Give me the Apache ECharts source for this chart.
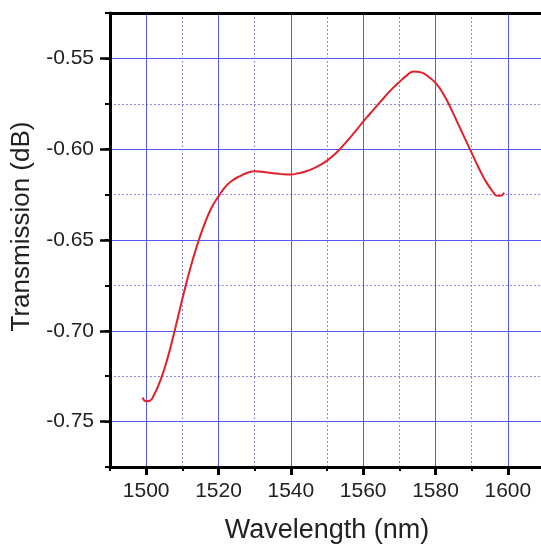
<!DOCTYPE html>
<html>
<head>
<meta charset="utf-8">
<script src="https://cdn.jsdelivr.net/npm/echarts@6/dist/echarts.min.js"></script>
<style>
html,body{margin:0;padding:0;background:#fff;}
#chart{width:541px;height:552px;}
</style>
</head>
<body>
<div id="chart"></div>
<script>
// Wavelength (nm)
const wavelength = [1499, 1500, 1501, 1502, 1504, 1506, 1508, 1510, 1512, 1514, 1516, 1518, 1520, 1522, 1524, 1526, 1528, 1530, 1532, 1534, 1536, 1538, 1540, 1542, 1544, 1546, 1548, 1550, 1552, 1554, 1556, 1558, 1560, 1562, 1564, 1566, 1568, 1570, 1572, 1574, 1576, 1578, 1580, 1582, 1584, 1586, 1588, 1590, 1592, 1594, 1596, 1597, 1598, 1599];
// Transmission (dB)
const transmission = [-0.7368, -0.7388, -0.7385, -0.7360, -0.7270, -0.7145, -0.6990, -0.6825, -0.6670, -0.6535, -0.6420, -0.6325, -0.6260, -0.6205, -0.6170, -0.6148, -0.6130, -0.6122, -0.6124, -0.6130, -0.6134, -0.6138, -0.6139, -0.6133, -0.6123, -0.6108, -0.6088, -0.6063, -0.6030, -0.5990, -0.5945, -0.5898, -0.5848, -0.5802, -0.5756, -0.5711, -0.5668, -0.5630, -0.5595, -0.5572, -0.5577, -0.5600, -0.5635, -0.5690, -0.5765, -0.5850, -0.5935, -0.6020, -0.6105, -0.6180, -0.6238, -0.6257, -0.6256, -0.6240];
const xMajorTicks = [1500, 1520, 1540, 1560, 1580, 1600];
const yMajorTicks = [-0.75, -0.70, -0.65, -0.60, -0.55];

const xMin = 1490, xMax = 1610, xStep = 10;
const yMin = -0.775, yMax = -0.525, yStep = 0.025;

const font = 'Liberation Sans, Arial, sans-serif';
const isMajor = (v, list) => list.some(m => Math.abs(m - v) < 1e-6);
const clear = 'rgba(0,0,0,0)';
const solidBlue = '#5656f2';
const dotBlue = '#8c8cf0';

const chart = echarts.init(document.getElementById('chart'), null, {renderer: 'canvas'});
chart.setOption({
  animation: false,
  backgroundColor: '#fff',
  grid: {left: 110, top: 13, right: -3, bottom: 85, containLabel: false, outerBoundsMode: 'none'},
  xAxis: [
    {
      type: 'value', position: 'bottom', min: xMin, max: xMax, interval: xStep,
      name: 'Wavelength (nm)', nameLocation: 'middle', nameGap: 50,
      nameTextStyle: {fontFamily: font, fontSize: 27, color: '#222'},
      axisLine: {show: true, lineStyle: {color: '#000', width: 3}},
      axisTick: {show: true, inside: false, length: 4, lineStyle: {color: '#000', width: 2}},
      axisLabel: {
        fontFamily: font, fontSize: 21, color: '#222', margin: 14,
        formatter: v => isMajor(v, xMajorTicks) ? String(Math.round(v)) : ''
      },
      splitLine: {show: true, lineStyle: {type: [2, 2], color: [dotBlue, clear], width: 1}}
    },
    {
      type: 'value', position: 'top', min: xMin, max: xMax, interval: xStep,
      axisLine: {show: true, lineStyle: {color: '#000', width: 3}},
      axisTick: {show: false}, axisLabel: {show: false},
      splitLine: {show: true, lineStyle: {type: 'solid', color: [clear, solidBlue], width: 1}}
    },
    {
      type: 'value', position: 'bottom', min: xMin, max: xMax, interval: xStep,
      axisLine: {show: false},
      axisTick: {show: true, inside: false, length: 8, customValues: xMajorTicks, lineStyle: {color: '#000', width: 3}},
      axisLabel: {show: false}, splitLine: {show: false}
    }
  ],
  yAxis: [
    {
      type: 'value', position: 'left', min: yMin, max: yMax, interval: yStep,
      name: 'Transmission (dB)', nameLocation: 'middle', nameGap: 72,
      nameTextStyle: {fontFamily: font, fontSize: 26, color: '#222', padding: [0, 0, 0, 27]},
      axisLine: {show: true, lineStyle: {color: '#000', width: 3}},
      axisTick: {show: true, inside: false, length: 5, lineStyle: {color: '#000', width: 2}},
      axisLabel: {
        fontFamily: font, fontSize: 21, color: '#222', margin: 16,
        formatter: v => isMajor(v, yMajorTicks) ? v.toFixed(2) : ''
      },
      splitLine: {show: true, lineStyle: {type: [2, 2], color: [dotBlue, clear], width: 1}}
    },
    {
      type: 'value', position: 'right', min: yMin, max: yMax, interval: yStep,
      axisLine: {show: false}, axisTick: {show: false}, axisLabel: {show: false},
      splitLine: {show: true, lineStyle: {type: 'solid', color: [clear, solidBlue], width: 1}}
    },
    {
      type: 'value', position: 'left', min: yMin, max: yMax, interval: yStep,
      axisLine: {show: false},
      axisTick: {show: true, inside: false, length: 10, customValues: yMajorTicks, lineStyle: {color: '#000', width: 2.5}},
      axisLabel: {show: false}, splitLine: {show: false}
    }
  ],
  series: [{
    type: 'line',
    xAxisIndex: 0, yAxisIndex: 0,
    data: wavelength.map((w, i) => [w, transmission[i]]),
    smooth: 0.5,
    showSymbol: false,
    lineStyle: {color: '#e3212b', width: 2},
    z: 5
  }]
});
</script>
</body>
</html>
